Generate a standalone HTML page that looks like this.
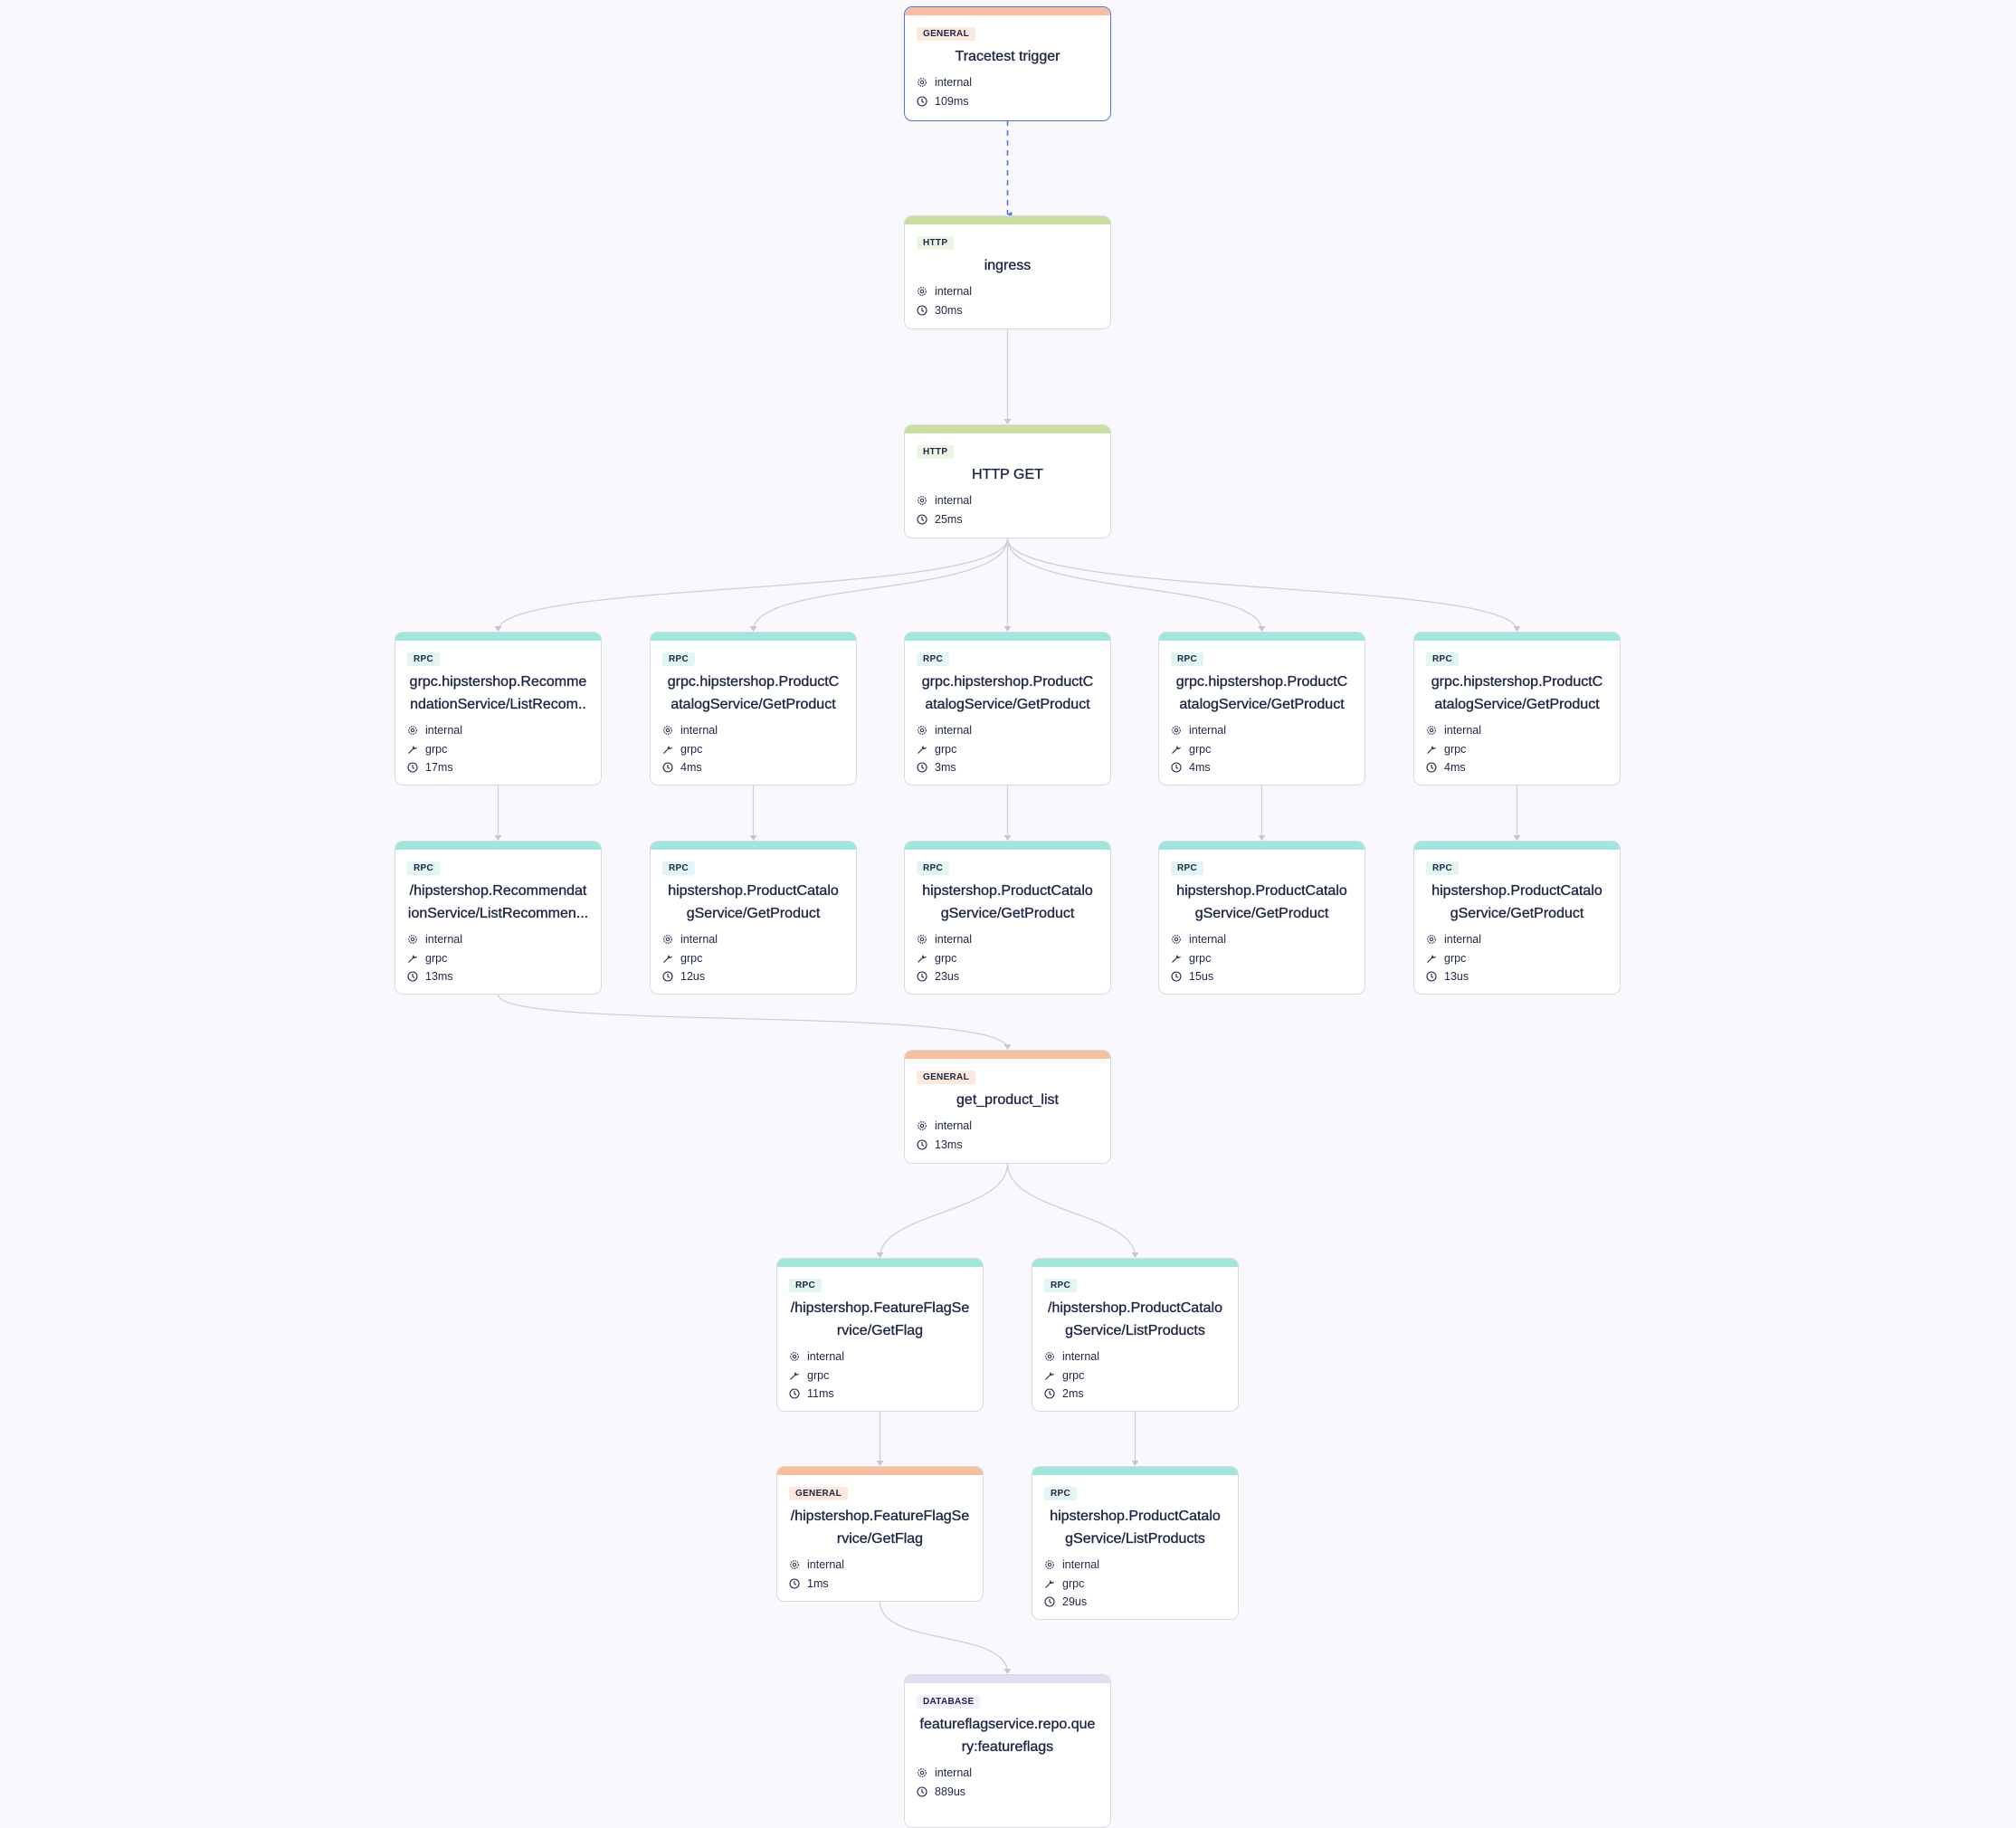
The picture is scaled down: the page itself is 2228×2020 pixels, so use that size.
<!DOCTYPE html>
<html><head><meta charset="utf-8"><style>
body{margin:0;width:2228px;height:2000px;background:#f9f9fd;position:relative;overflow:hidden;font-family:"Liberation Sans",sans-serif;color:#1d2547}
svg.e{position:absolute;left:0;top:0}
.n{position:absolute;background:#fff;border:1px solid #d9d9e2;border-radius:9px;box-sizing:border-box;overflow:hidden;width:229px}
.n.sel{border:1.5px solid #4f72f0}
.bar{height:9px}
.b{display:inline-block;margin:13px 0 0 13px;height:15px;line-height:15px;padding:0 7px;font-size:10px;font-weight:bold;letter-spacing:.3px;border-radius:2px}
.t{text-align:center;font-size:16px;line-height:25px;margin-top:5px;padding:0 6px;white-space:nowrap;-webkit-text-stroke:0.35px #1d2547}
.m{font-size:12.5px;line-height:20.5px;padding-left:13px;display:flex;align-items:center}
.t + .m{margin-top:6px}
.m svg{width:12px;height:12px;margin-right:8px;flex:none}
.gen .bar{background:#f7bf9e}.gen .b{background:#fde8dd}
.http .bar{background:#c9dfa0}.http .b{background:#edf5e3}
.rpc .bar{background:#9fe6dc}.rpc .b{background:#e2f6f3}
.db .bar{background:#e6dcf6}.db .b{background:#f3effb}
</style></head><body>
<svg width="0" height="0" style="position:absolute"><defs>
<symbol id="g" viewBox="0 0 12 12"><circle cx="6" cy="6" r="4.3" fill="none" stroke="#1d2547" stroke-width="1.1" stroke-dasharray="1.6 1"/><circle cx="6" cy="6" r="1.7" fill="none" stroke="#1d2547" stroke-width="1"/></symbol>
<symbol id="c" viewBox="0 0 12 12"><circle cx="6" cy="6" r="5" fill="none" stroke="#1d2547" stroke-width="1.1"/><path d="M6 3v3.2l2 1.2" fill="none" stroke="#1d2547" stroke-width="1.1"/></symbol>
<symbol id="w" viewBox="0 0 12 12"><path d="M1.5 10.5l5-5M7 2.5a2 2 0 0 0 2.5 2.5l1-1M6 4l2 2" fill="none" stroke="#1d2547" stroke-width="1.1"/></symbol>
<marker id="ab" viewBox="0 0 10 10" refX="5" refY="9" markerWidth="8" markerHeight="8" orient="auto" markerUnits="userSpaceOnUse"><path d="M1 3L5 9L9 3z" fill="#4f72f0"/></marker>
</defs></svg>
<svg class="e" width="2228" height="2000" fill="none" stroke="#cfcfda" stroke-width="1.3">
<path d="M1113.5 133V237" stroke="#4f72f0" stroke-width="1.6" stroke-dasharray="6 5" marker-end="url(#ab)"/>
<path d="M1113.5 364V468"/>
<path d="M1113.5 595C1113.5 660 550.5 640 550.5 697"/>
<path d="M1113.5 595C1113.5 660 832.5 640 832.5 697"/>
<path d="M1113.5 595V697"/>
<path d="M1113.5 595C1113.5 660 1394.5 640 1394.5 697"/>
<path d="M1113.5 595C1113.5 660 1676.5 640 1676.5 697"/>
<path d="M550.5 868V928"/><path d="M832.5 868V928"/><path d="M1113.5 868V928"/><path d="M1394.5 868V928"/><path d="M1676.5 868V928"/>
<path d="M550.5 1099C550.5 1140 1113.5 1110 1113.5 1159"/>
<path d="M1113.5 1286C1113.5 1340 972.5 1340 972.5 1389"/>
<path d="M1113.5 1286C1113.5 1340 1254.5 1340 1254.5 1389"/>
<path d="M972.5 1560V1619"/><path d="M1254.5 1560V1619"/>
<path d="M972.5 1770C972.5 1820 1113.5 1800 1113.5 1849"/>
<g fill="#c6c6d2" stroke="none">
<path d="M1109.5 463h8l-4 6z"/>
<path d="M546.5 692h8l-4 6z"/><path d="M828.5 692h8l-4 6z"/><path d="M1109.5 692h8l-4 6z"/><path d="M1390.5 692h8l-4 6z"/><path d="M1672.5 692h8l-4 6z"/>
<path d="M546.5 923h8l-4 6z"/><path d="M828.5 923h8l-4 6z"/><path d="M1109.5 923h8l-4 6z"/><path d="M1390.5 923h8l-4 6z"/><path d="M1672.5 923h8l-4 6z"/>
<path d="M1109.5 1154h8l-4 6z"/>
<path d="M968.5 1384h8l-4 6z"/><path d="M1250.5 1384h8l-4 6z"/>
<path d="M968.5 1614h8l-4 6z"/><path d="M1250.5 1614h8l-4 6z"/>
<path d="M1109.5 1844h8l-4 6z"/>
</g>
</svg>

<div class="n gen sel" style="left:999px;top:7px;height:127px"><div class="bar"></div><span class="b">GENERAL</span><div class="t">Tracetest trigger</div><div class="m"><svg><use href="#g"/></svg>internal</div><div class="m"><svg><use href="#c"/></svg>109ms</div></div>

<div class="n http" style="left:999px;top:238px;height:126px"><div class="bar"></div><span class="b">HTTP</span><div class="t">ingress</div><div class="m"><svg><use href="#g"/></svg>internal</div><div class="m"><svg><use href="#c"/></svg>30ms</div></div>

<div class="n http" style="left:999px;top:469px;height:126px"><div class="bar"></div><span class="b">HTTP</span><div class="t">HTTP GET</div><div class="m"><svg><use href="#g"/></svg>internal</div><div class="m"><svg><use href="#c"/></svg>25ms</div></div>

<div class="n rpc" style="left:436px;top:698px;height:170px"><div class="bar"></div><span class="b">RPC</span><div class="t">grpc.hipstershop.Recomme<br>ndationService/ListRecom..</div><div class="m"><svg><use href="#g"/></svg>internal</div><div class="m"><svg><use href="#w"/></svg>grpc</div><div class="m"><svg><use href="#c"/></svg>17ms</div></div>
<div class="n rpc" style="left:718px;top:698px;height:170px"><div class="bar"></div><span class="b">RPC</span><div class="t">grpc.hipstershop.ProductC<br>atalogService/GetProduct</div><div class="m"><svg><use href="#g"/></svg>internal</div><div class="m"><svg><use href="#w"/></svg>grpc</div><div class="m"><svg><use href="#c"/></svg>4ms</div></div>
<div class="n rpc" style="left:999px;top:698px;height:170px"><div class="bar"></div><span class="b">RPC</span><div class="t">grpc.hipstershop.ProductC<br>atalogService/GetProduct</div><div class="m"><svg><use href="#g"/></svg>internal</div><div class="m"><svg><use href="#w"/></svg>grpc</div><div class="m"><svg><use href="#c"/></svg>3ms</div></div>
<div class="n rpc" style="left:1280px;top:698px;height:170px"><div class="bar"></div><span class="b">RPC</span><div class="t">grpc.hipstershop.ProductC<br>atalogService/GetProduct</div><div class="m"><svg><use href="#g"/></svg>internal</div><div class="m"><svg><use href="#w"/></svg>grpc</div><div class="m"><svg><use href="#c"/></svg>4ms</div></div>
<div class="n rpc" style="left:1562px;top:698px;height:170px"><div class="bar"></div><span class="b">RPC</span><div class="t">grpc.hipstershop.ProductC<br>atalogService/GetProduct</div><div class="m"><svg><use href="#g"/></svg>internal</div><div class="m"><svg><use href="#w"/></svg>grpc</div><div class="m"><svg><use href="#c"/></svg>4ms</div></div>

<div class="n rpc" style="left:436px;top:929px;height:170px"><div class="bar"></div><span class="b">RPC</span><div class="t">/hipstershop.Recommendat<br>ionService/ListRecommen...</div><div class="m"><svg><use href="#g"/></svg>internal</div><div class="m"><svg><use href="#w"/></svg>grpc</div><div class="m"><svg><use href="#c"/></svg>13ms</div></div>
<div class="n rpc" style="left:718px;top:929px;height:170px"><div class="bar"></div><span class="b">RPC</span><div class="t">hipstershop.ProductCatalo<br>gService/GetProduct</div><div class="m"><svg><use href="#g"/></svg>internal</div><div class="m"><svg><use href="#w"/></svg>grpc</div><div class="m"><svg><use href="#c"/></svg>12us</div></div>
<div class="n rpc" style="left:999px;top:929px;height:170px"><div class="bar"></div><span class="b">RPC</span><div class="t">hipstershop.ProductCatalo<br>gService/GetProduct</div><div class="m"><svg><use href="#g"/></svg>internal</div><div class="m"><svg><use href="#w"/></svg>grpc</div><div class="m"><svg><use href="#c"/></svg>23us</div></div>
<div class="n rpc" style="left:1280px;top:929px;height:170px"><div class="bar"></div><span class="b">RPC</span><div class="t">hipstershop.ProductCatalo<br>gService/GetProduct</div><div class="m"><svg><use href="#g"/></svg>internal</div><div class="m"><svg><use href="#w"/></svg>grpc</div><div class="m"><svg><use href="#c"/></svg>15us</div></div>
<div class="n rpc" style="left:1562px;top:929px;height:170px"><div class="bar"></div><span class="b">RPC</span><div class="t">hipstershop.ProductCatalo<br>gService/GetProduct</div><div class="m"><svg><use href="#g"/></svg>internal</div><div class="m"><svg><use href="#w"/></svg>grpc</div><div class="m"><svg><use href="#c"/></svg>13us</div></div>

<div class="n gen" style="left:999px;top:1160px;height:126px"><div class="bar"></div><span class="b">GENERAL</span><div class="t">get_product_list</div><div class="m"><svg><use href="#g"/></svg>internal</div><div class="m"><svg><use href="#c"/></svg>13ms</div></div>

<div class="n rpc" style="left:858px;top:1390px;height:170px"><div class="bar"></div><span class="b">RPC</span><div class="t">/hipstershop.FeatureFlagSe<br>rvice/GetFlag</div><div class="m"><svg><use href="#g"/></svg>internal</div><div class="m"><svg><use href="#w"/></svg>grpc</div><div class="m"><svg><use href="#c"/></svg>11ms</div></div>
<div class="n rpc" style="left:1140px;top:1390px;height:170px"><div class="bar"></div><span class="b">RPC</span><div class="t">/hipstershop.ProductCatalo<br>gService/ListProducts</div><div class="m"><svg><use href="#g"/></svg>internal</div><div class="m"><svg><use href="#w"/></svg>grpc</div><div class="m"><svg><use href="#c"/></svg>2ms</div></div>

<div class="n gen" style="left:858px;top:1620px;height:150px"><div class="bar"></div><span class="b">GENERAL</span><div class="t">/hipstershop.FeatureFlagSe<br>rvice/GetFlag</div><div class="m"><svg><use href="#g"/></svg>internal</div><div class="m"><svg><use href="#c"/></svg>1ms</div></div>
<div class="n rpc" style="left:1140px;top:1620px;height:170px"><div class="bar"></div><span class="b">RPC</span><div class="t">hipstershop.ProductCatalo<br>gService/ListProducts</div><div class="m"><svg><use href="#g"/></svg>internal</div><div class="m"><svg><use href="#w"/></svg>grpc</div><div class="m"><svg><use href="#c"/></svg>29us</div></div>

<div class="n db" style="left:999px;top:1850px;height:170px"><div class="bar"></div><span class="b">DATABASE</span><div class="t">featureflagservice.repo.que<br>ry:featureflags</div><div class="m"><svg><use href="#g"/></svg>internal</div><div class="m"><svg><use href="#c"/></svg>889us</div></div>
</body></html>
